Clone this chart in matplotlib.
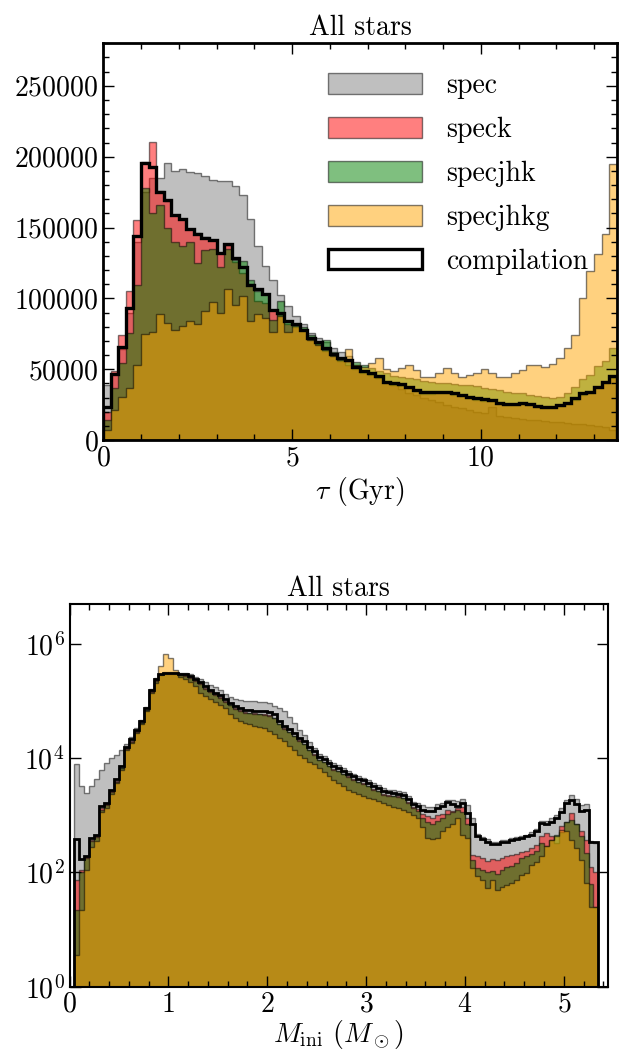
import numpy as np
import matplotlib.pyplot as plt
from matplotlib.ticker import MultipleLocator, NullLocator, FixedLocator

plt.rcParams.update({
    'font.family': 'serif',
    'font.serif': ['cmr10'],
    'mathtext.fontset': 'cm',
    'axes.formatter.use_mathtext': True,
    'axes.unicode_minus': False,
    'font.size': 20,
})

# ---- age histogram (0.2 Gyr bins, 0 - 13.6 Gyr) ----
age_edges = np.linspace(0, 13.6, 69)
age_spec = [38900, 47000, 64000, 90000, 140000, 175000, 185000, 184900, 195700, 189800,
            191200, 189100, 188600, 186300, 183500, 182700, 182700, 179200, 172600, 156100,
            137200, 122600, 113000, 102100, 94300, 87700, 82100, 75500, 71900, 69000,
            64800, 61800, 59000, 53000, 49500, 46500, 43500, 41000, 38500, 36000,
            33500, 31500, 29500, 28000, 26500, 25000, 23600, 22500, 21000, 20000,
            18900, 23600, 17000, 16000, 15500, 15000, 14500, 14000, 13500, 13000,
            12500, 12000, 11500, 11000, 10500, 10000, 9500, 7000]
age_speck = [20000, 49000, 73800, 105400, 155600, 196000, 210300, 176000, 169000, 159000,
             156000, 149000, 146000, 143000, 141000, 132000, 138000, 126000, 118000, 110000,
             98000, 97000, 92000, 88000, 82000, 80000, 77000, 71000, 68000, 63000,
             60000, 56000, 53000, 50000, 47500, 46000, 44000, 40000, 39000, 38200,
             36500, 34300, 32700, 32700, 33200, 33200, 32000, 30800, 29800, 28600,
             27900, 27400, 25600, 24700, 24700, 25100, 24700, 23600, 22400, 22900,
             24000, 25600, 28600, 32000, 33200, 36600, 40000, 44000]
age_specjhk = [14000, 36500, 54200, 75500, 109600, 178000, 160000, 166000, 150000, 140000,
               137000, 140000, 125000, 134000, 135000, 122000, 135000, 127000, 126600, 113000,
               105000, 103000, 85000, 98000, 84000, 82000, 80000, 74000, 69000, 70700,
               62000, 58000, 55000, 55000, 53000, 51000, 49000, 47000, 45500, 44500,
               44000, 43000, 42000, 41000, 40500, 40000, 39500, 39000, 38500, 38000,
               37000, 36000, 35000, 34000, 33500, 33000, 32000, 31000, 30500, 30000,
               30500, 33000, 37500, 43000, 46000, 52000, 56000, 65000]
age_specjhkg = [7000, 21200, 30700, 37000, 53000, 75000, 76000, 88900, 82500, 77800,
                80200, 83700, 82000, 90800, 97400, 89600, 106600, 95500, 101400, 84200,
                88900, 86100, 76600, 87200, 76600, 80600, 77800, 70700, 67200, 63700,
                59000, 56600, 64400, 53000, 51900, 54200, 57800, 50000, 49000, 50700,
                53000, 49500, 44800, 44800, 47200, 50700, 47600, 44800, 46000, 47600,
                50000, 47600, 44800, 44800, 47600, 49500, 53000, 53000, 51400, 53500,
                57800, 64800, 74300, 100200, 119100, 131600, 145700, 194500]
age_comp = [23100, 46500, 66000, 93100, 143800, 195200, 192900, 175400, 169100, 158700,
            156100, 149300, 145500, 142700, 141200, 131800, 138400, 128300, 122400, 109200,
            106600, 102800, 91700, 90000, 83700, 82000, 77800, 71900, 69100, 64800,
            60800, 58200, 56600, 51400, 49000, 47600, 45500, 41300, 40100, 39400,
            37700, 35400, 33700, 33700, 34200, 34200, 33000, 31800, 30700, 29500,
            28800, 28300, 26400, 25500, 25500, 25900, 25500, 24300, 23100, 23600,
            24800, 26400, 29500, 33000, 34200, 37700, 41300, 45300]

# ---- initial mass histogram (0.05 Msun bins, 0.05 - 5.35), log10(counts) ----
mass_edges = np.linspace(0.05, 5.35, 107)
mass_spec_log = [3.89, 3.51, 3.39, 3.51, 3.63, 3.80, 3.92, 4.01, 4.06, 4.15,
                 4.24, 4.37, 4.52, 4.67, 4.90, 5.21, 5.40, 5.48, 5.51, 5.51,
                 5.51, 5.50, 5.49, 5.47, 5.43, 5.39, 5.33, 5.28, 5.24, 5.19,
                 5.13, 5.08, 5.04, 5.02, 5.01, 5.00, 5.00, 4.99, 4.98, 4.96,
                 4.92, 4.88, 4.82, 4.72, 4.62, 4.50, 4.40, 4.28, 4.18, 4.08,
                 4.04, 3.97, 3.91, 3.88, 3.83, 3.78, 3.73, 3.69, 3.66, 3.62,
                 3.56, 3.53, 3.47, 3.45, 3.44, 3.43, 3.41, 3.34, 3.24, 3.22,
                 3.18, 3.15, 3.15, 3.20, 3.22, 3.27, 3.26, 3.25, 3.28, 3.18,
                 2.95, 2.68, 2.62, 2.58, 2.54, 2.53, 2.56, 2.57, 2.60, 2.62,
                 2.64, 2.66, 2.70, 2.76, 2.90, 2.90, 2.95, 3.01, 3.12, 3.27,
                 3.36, 3.28, 3.18, 3.20, 2.55, 2.52]
mass_speck_log = [1.87, 2.05, 2.27, 2.57, 2.63, 3.12, 3.19, 3.42, 3.60, 3.83,
                  4.17, 4.30, 4.47, 4.62, 4.85, 5.17, 5.37, 5.46, 5.49, 5.49,
                  5.49, 5.47, 5.45, 5.42, 5.37, 5.31, 5.23, 5.17, 5.12, 5.07,
                  5.00, 4.94, 4.88, 4.84, 4.81, 4.80, 4.79, 4.78, 4.77, 4.75,
                  4.71, 4.60, 4.52, 4.46, 4.39, 4.31, 4.25, 4.15, 4.07, 3.97,
                  3.94, 3.87, 3.81, 3.78, 3.73, 3.68, 3.63, 3.59, 3.56, 3.52,
                  3.46, 3.43, 3.37, 3.35, 3.34, 3.33, 3.31, 3.24, 3.14, 3.11,
                  3.03, 2.98, 2.96, 3.00, 3.03, 3.10, 3.08, 3.12, 3.15, 2.95,
                  2.30, 2.28, 2.25, 2.20, 2.24, 2.22, 2.25, 2.28, 2.30, 2.32,
                  2.35, 2.38, 2.42, 2.48, 2.63, 2.69, 2.63, 2.51, 2.81, 2.89,
                  3.04, 2.84, 2.72, 2.57, 2.10, 2.00]
mass_specjhk_log = [1.35, 2.00, 2.25, 2.55, 2.62, 3.10, 3.18, 3.41, 3.59, 3.82,
                    4.16, 4.29, 4.46, 4.61, 4.84, 5.16, 5.36, 5.45, 5.48, 5.48,
                    5.48, 5.46, 5.44, 5.41, 5.36, 5.30, 5.22, 5.16, 5.11, 5.06,
                    4.99, 4.93, 4.87, 4.83, 4.80, 4.79, 4.78, 4.77, 4.76, 4.74,
                    4.70, 4.59, 4.51, 4.45, 4.38, 4.30, 4.24, 4.14, 4.06, 3.96,
                    3.93, 3.86, 3.80, 3.77, 3.72, 3.67, 3.62, 3.58, 3.55, 3.51,
                    3.45, 3.42, 3.36, 3.34, 3.33, 3.32, 3.30, 3.22, 3.12, 3.08,
                    2.95, 2.88, 2.85, 2.90, 2.95, 3.02, 3.05, 3.10, 3.05, 2.85,
                    2.22, 2.08, 2.05, 2.00, 2.03, 1.98, 2.05, 2.10, 2.12, 2.16,
                    2.25, 2.28, 2.32, 2.38, 2.52, 2.46, 2.57, 2.65, 2.71, 2.89,
                    2.92, 2.84, 2.63, 2.34, 1.80, 1.40]
mass_specjhkg_log = [0.55, 1.35, 2.05, 2.45, 2.55, 3.05, 3.12, 3.38, 3.56, 3.80,
                     4.14, 4.27, 4.44, 4.59, 4.82, 5.14, 5.32, 5.62, 5.82, 5.76,
                     5.54, 5.42, 5.38, 5.33, 5.26, 5.15, 5.09, 5.03, 4.98, 4.94,
                     4.88, 4.78, 4.71, 4.66, 4.62, 4.59, 4.57, 4.55, 4.52, 4.48,
                     4.42, 4.36, 4.30, 4.22, 4.14, 4.06, 4.00, 3.94, 3.89, 3.82,
                     3.76, 3.68, 3.62, 3.57, 3.52, 3.45, 3.41, 3.37, 3.33, 3.30,
                     3.28, 3.25, 3.22, 3.18, 3.15, 3.12, 3.10, 3.05, 3.00, 2.95,
                     2.80, 2.60, 2.58, 2.60, 2.72, 2.80, 2.85, 2.95, 2.65, 2.60,
                     2.08, 1.93, 1.87, 1.73, 1.87, 1.70, 1.75, 1.78, 1.81, 1.87,
                     1.96, 1.99, 2.13, 2.19, 2.28, 2.46, 2.57, 2.63, 2.75, 2.72,
                     2.57, 2.43, 2.22, 1.81, 1.40, 1.40]
mass_comp_log = [2.59, 2.24, 2.29, 2.60, 2.66, 3.16, 3.22, 3.45, 3.63, 3.86,
                 4.20, 4.33, 4.50, 4.65, 4.88, 5.20, 5.39, 5.47, 5.50, 5.50,
                 5.50, 5.48, 5.47, 5.44, 5.39, 5.34, 5.26, 5.20, 5.15, 5.10,
                 5.03, 4.97, 4.91, 4.88, 4.85, 4.84, 4.83, 4.83, 4.82, 4.81,
                 4.77, 4.65, 4.57, 4.51, 4.44, 4.36, 4.30, 4.20, 4.12, 4.02,
                 3.99, 3.92, 3.86, 3.83, 3.78, 3.73, 3.68, 3.64, 3.61, 3.57,
                 3.51, 3.48, 3.42, 3.40, 3.39, 3.38, 3.36, 3.29, 3.19, 3.16,
                 3.10, 3.07, 3.07, 3.13, 3.16, 3.23, 3.20, 3.16, 3.22, 3.04,
                 2.84, 2.63, 2.58, 2.54, 2.50, 2.50, 2.53, 2.54, 2.57, 2.58,
                 2.60, 2.63, 2.66, 2.72, 2.87, 2.84, 2.89, 2.95, 3.05, 3.22,
                 3.27, 3.19, 3.07, 3.10, 2.54, 2.54]

labels = ['spec', 'speck', 'specjhk', 'specjhkg']
colors = ['grey', 'red', 'green', 'orange']


def draw_panel(ax, edges, series, comp, lw_comp, log=False):
    centers = 0.5 * (edges[1:] + edges[:-1])
    for lab, col, vals in zip(labels, colors, series):
        ax.hist(centers, bins=edges, weights=vals, histtype='stepfilled',
                color=col, alpha=0.5, edgecolor='k', lw=1.0, label=lab, log=log)
    ax.hist(centers, bins=edges, weights=comp, histtype='step', color='k',
            lw=lw_comp, label='compilation', log=log)
    ax.tick_params(which='both', direction='in', top=True, right=True)
    ax.tick_params(which='major', length=8, width=1)
    ax.tick_params(which='minor', length=4, width=1)
    ax.set_title('All stars', fontsize=20)


fig = plt.figure(figsize=(6.24, 10.54), dpi=100)

# top: age
ax1 = fig.add_axes([0.1655, 0.5825, 0.8228, 0.3764])
draw_panel(ax1, age_edges, [age_spec, age_speck, age_specjhk, age_specjhkg],
           age_comp, 2.4)
ax1.set_xlim(0, 13.6)
ax1.set_ylim(0, 280000)
ax1.xaxis.set_major_locator(MultipleLocator(5))
ax1.xaxis.set_minor_locator(MultipleLocator(1))
ax1.yaxis.set_major_locator(MultipleLocator(50000))
ax1.yaxis.set_minor_locator(MultipleLocator(10000))
ax1.set_xlabel(r'$\tau$ (Gyr)', labelpad=3)
for s in ax1.spines.values():
    s.set_linewidth(2.0)
ax1.legend(loc='upper left', bbox_to_anchor=(0.4377, 0.925), frameon=False,
           fontsize=20, handlelength=3.4, handleheight=0.78, handletextpad=0.85,
           labelspacing=0.63, borderpad=0, borderaxespad=0)

# bottom: initial mass
ax2 = fig.add_axes([0.1114, 0.0639, 0.8634, 0.3630])
mass_series = [10 ** np.array(v) for v in
               [mass_spec_log, mass_speck_log, mass_specjhk_log, mass_specjhkg_log]]
draw_panel(ax2, mass_edges, mass_series, 10 ** np.array(mass_comp_log), 2.0, log=True)
ax2.set_xlim(0, 5.45)
ax2.set_ylim(1, 5e6)
ax2.xaxis.set_major_locator(MultipleLocator(1))
ax2.xaxis.set_minor_locator(MultipleLocator(0.2))
ax2.yaxis.set_major_locator(FixedLocator([1, 1e2, 1e4, 1e6]))
ax2.yaxis.set_minor_locator(NullLocator())
ax2.set_xlabel(r'$M_{\rm ini}$ ($M_\odot$)', labelpad=0)
for s in ax2.spines.values():
    s.set_linewidth(1.5)

fig.savefig('out.png', dpi=100)
